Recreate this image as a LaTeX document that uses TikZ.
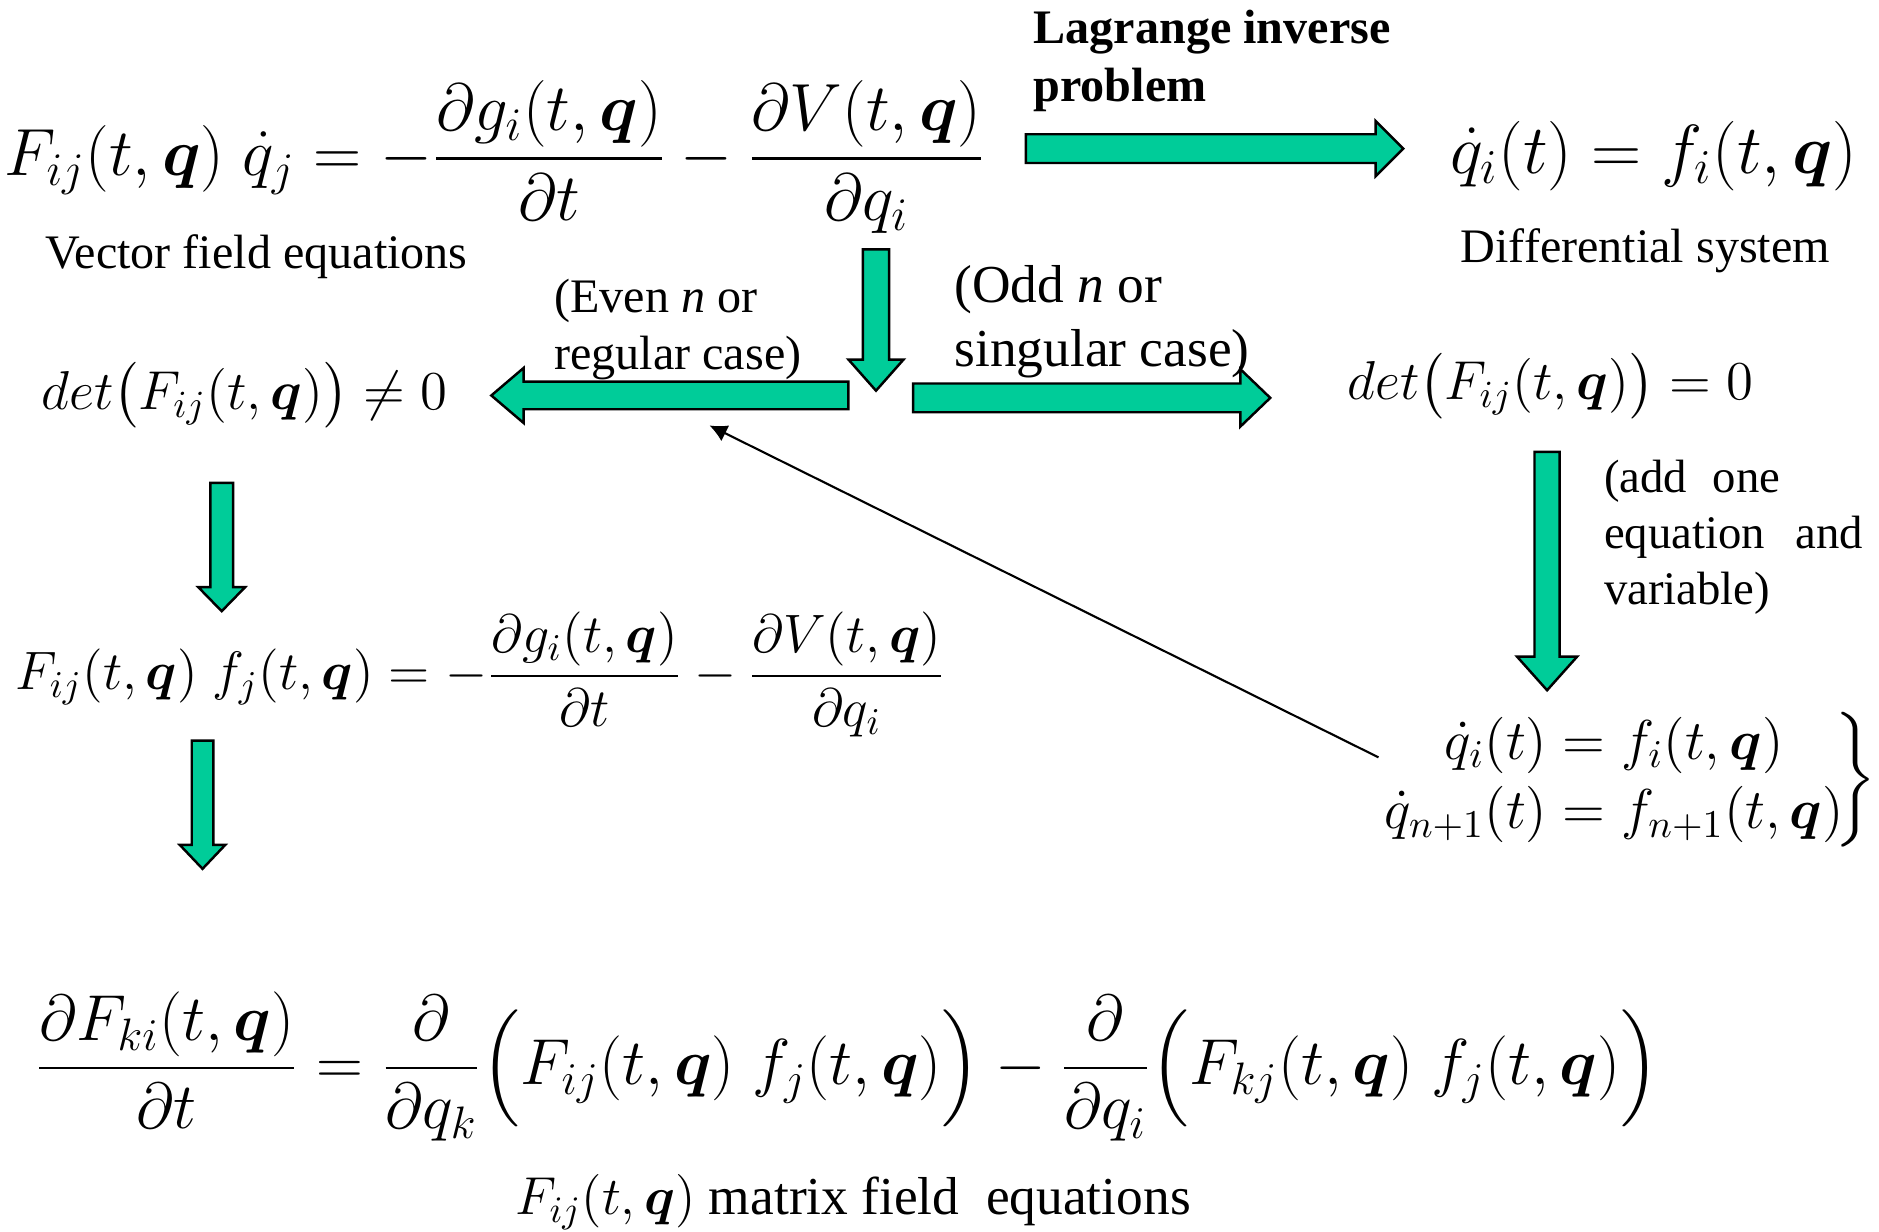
\RequirePackage{fix-cm}
\documentclass[tikz,border=0pt]{standalone}
\usepackage{amsmath}
\usepackage{amssymb}
\usepackage{bm}
\usepackage{fontspec}
\setmainfont{Liberation Serif}
\usetikzlibrary{arrows.meta,calc}
\definecolor{arrowgreen}{RGB}{0,204,153}

\tikzset{
  txt/.style={font=\fontsize{13.7}{16.4}\selectfont, inner sep=0pt},
  bigeq/.style={font=\fontsize{19}{23}\selectfont, inner sep=0pt},
  mideq/.style={font=\fontsize{15.5}{19}\selectfont, inner sep=0pt},
  fatbody/.style={draw=black, line width=0.7pt, fill=arrowgreen, line join=miter},
  thinarrow/.style={-{Latex[length=5pt,width=5pt]}, line width=0.6pt},
  % #1 length, #2 shaft half width, #3 head half width, #4 head length
  pics/blockarrow/.style n args={4}{code={
    \draw[fatbody] (0,-#2) -- (#1-#4,-#2) -- (#1-#4,-#3) -- (#1,0)
      -- (#1-#4,#3) -- (#1-#4,#2) -- (0,#2) -- cycle;
  }},
}

\begin{document}
\begin{tikzpicture}[x=0.012cm, y=0.012cm]
  \useasboundingbox (0,0) rectangle (1568,-1028);
  % top row
  \node[bigeq] (eqTop) at (413,-131)
    {$\displaystyle F_{ij}(t,\bm{q})\;\dot q_j=-\frac{\partial g_i(t,\bm q)}{\partial t}-\frac{\partial V(t,\bm q)}{\partial q_i}$};
  \node[txt] (vfe) at (214,-214) {Vector field equations};
  \node[txt, anchor=north west, align=left, font=\fontsize{13.7}{16.4}\selectfont\bfseries] (lip) at (862,-8)
    {Lagrange inverse\\problem};
  \node[bigeq, font=\fontsize{19.8}{24}\selectfont] (eqDS) at (1380,-130) {$\dot q_i(t)=f_i(t,\bm q)$};
  \node[txt] (ds) at (1373,-209) {Differential system};
  \pic at (856,-124) {blockarrow={315}{12}{23}{23}};
  % branches
  \pic[rotate=-90] at (731,-208) {blockarrow={118}{11}{23}{26}};
  \pic[rotate=180] at (708,-330) {blockarrow={298}{11.5}{23}{27}};
  \pic at (762,-332) {blockarrow={298}{12}{24}{25}};
  \node[txt, anchor=north west, align=left] (even) at (462,-232) {(Even \textit{n} or\\regular case)};
  \node[txt, anchor=north west, align=left, font=\fontsize{15.2}{18.2}\selectfont] (odd) at (796,-221) {(Odd \textit{n} or\\singular case)};
  \node[mideq, font=\fontsize{15.6}{19}\selectfont] (detNe) at (204,-330) {$det\bigl(F_{ij}(t,\bm q)\bigr)\neq 0$};
  \node[mideq, font=\fontsize{15.6}{19}\selectfont] (detEq) at (1294,-322) {$det\bigl(F_{ij}(t,\bm q)\bigr)=0$};
  % left column
  \pic[rotate=-90] at (185,-403) {blockarrow={107}{9.5}{19.5}{20}};
  \node[mideq, font=\fontsize{15.4}{19}\selectfont] (eqMid) at (401,-563)
    {$\displaystyle F_{ij}(t,\bm q)\;f_j(t,\bm q)=-\frac{\partial g_i(t,\bm q)}{\partial t}-\frac{\partial V(t,\bm q)}{\partial q_i}$};
  \pic[rotate=-90] at (169,-618) {blockarrow={107}{9}{19}{20}};
  % right column
  \pic[rotate=-90] at (1291,-377) {blockarrow={199}{10.5}{25}{28}};
  \node[txt, anchor=north west, align=left, font=\fontsize{13.3}{16}\selectfont] (addone) at (1338,-383)
    {(add\hspace{0.55em}one\\equation\hspace{0.65em}and\\variable)};
  \node[mideq, font=\fontsize{16}{19.8}\selectfont] (sys) at (1359,-651)
    {$\left.\begin{array}{@{}c@{}}\dot q_i(t)=f_i(t,\bm q)\\ \dot q_{n+1}(t)=f_{n+1}(t,\bm q)\end{array}\!\right\}$};
  \coordinate (backtip) at (592,-355);
  \draw[thinarrow] ($(sys.west)+(-1,19)$) -- (backtip);
  % bottom
  \node[bigeq, font=\fontsize{18.5}{23}\selectfont] (eqBot) at (707,-890)
    {$\displaystyle \frac{\partial F_{ki}(t,\bm q)}{\partial t}=\frac{\partial}{\partial q_k}\Bigl(F_{ij}(t,\bm q)\;f_j(t,\bm q)\Bigr)-\frac{\partial}{\partial q_i}\Bigl(F_{kj}(t,\bm q)\;f_j(t,\bm q)\Bigr)$};
  \node[txt, font=\fontsize{15.2}{18}\selectfont] (mfe) at (712,-1003)
    {$F_{ij}(t,\bm q)$ matrix field\ \ equations};
\end{tikzpicture}
\end{document}
